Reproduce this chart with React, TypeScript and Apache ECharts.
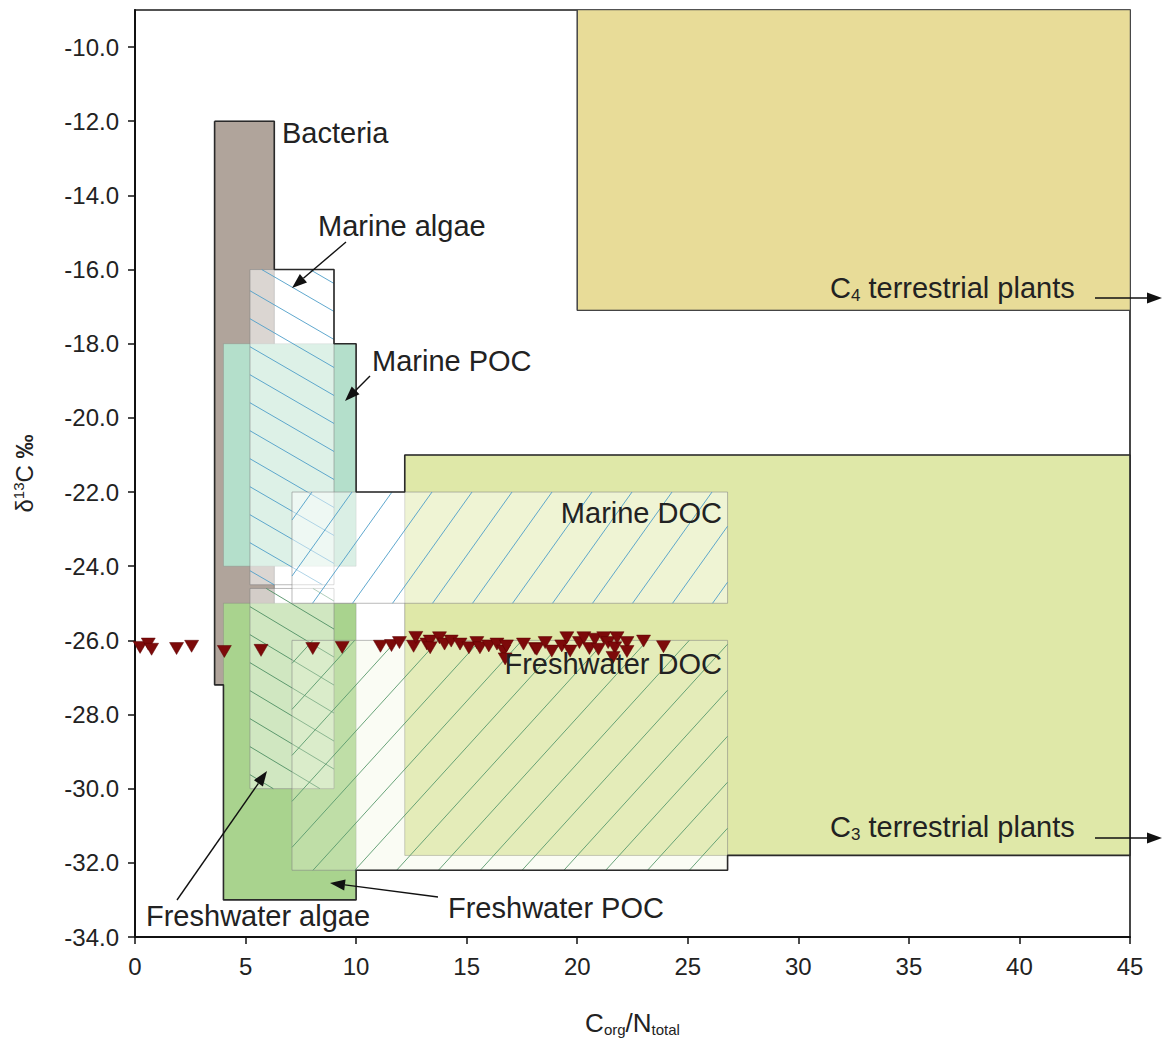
import React, { useEffect, useRef } from 'react';
import * as echarts from 'echarts';

// ---------- axis ticks ----------
const xTicks = [0, 5, 10, 15, 20, 25, 30, 35, 40, 45];
const yTicks = [-34, -32, -30, -28, -26, -24, -22, -20, -18, -16, -14, -12, -10];

// ---------- source regions (C/N range, d13C range) ----------
const regionNames = [
  'C4 terrestrial plants',
  'C3 terrestrial plants',
  'Bacteria',
  'Marine POC',
  'Freshwater POC',
  'Marine algae',
  'Freshwater algae',
  'Marine DOC',
  'Freshwater DOC',
];
const regionCnMin = [20, 12.2, 3.6, 4, 4, 5.2, 5.2, 7.1, 7.1];
const regionCnMax = [45, 45, 6.3, 10, 10, 9, 9, 26.8, 26.8];
const regionD13Min = [-17.1, -31.8, -27.2, -24, -33, -24.5, -30, -25, -32.2];
const regionD13Max = [-9, -21, -12, -18, -25, -16, -24.6, -22, -26];

// outer outline of the combined source fields
const outlineCn = [3.6, 6.3, 6.3, 9, 9, 10, 10, 12.2, 12.2, 45, 45, 26.8, 26.8, 10, 10, 4, 4, 3.6, 3.6];
const outlineD13 = [-12, -12, -16, -16, -18, -18, -22, -22, -21, -21, -31.8, -31.8, -32.2, -32.2, -33, -33, -27.2, -27.2, -12];
const c4OutlineCn = [20, 20, 45];
const c4OutlineD13 = [-9, -17.1, -17.1];

// ---------- samples ----------
const sampleCn = [
  0.23, 0.6, 0.75, 1.88, 2.56, 4.04, 5.7, 8.04, 9.37, 11.1, 11.6, 11.96, 12.6, 12.7, 13.2,
  13.35, 13.35, 13.77, 14.0, 14.3, 14.7, 15.1, 15.46, 15.6, 16.0, 16.37, 16.67, 16.74, 16.8,
  17.57, 18.1, 18.17, 18.55, 18.85, 19.3, 19.53, 19.68, 20.1, 20.3, 20.55, 20.8, 20.96, 21.2,
  21.4, 21.7, 21.8, 21.62, 22.25, 22.25, 23.0, 23.9,
];
const sampleD13 = [
  -26.19, -26.1, -26.24, -26.22, -26.16, -26.3, -26.27, -26.22, -26.19, -26.16, -26.14, -26.06, -26.16, -25.92, -26.1,
  -26.02, -26.2, -25.93, -26.1, -26.02, -26.1, -26.2, -26.06, -26.2, -26.15, -26.1, -26.29, -26.5, -26.15,
  -26.1, -26.22, -26.24, -26.06, -26.29, -26.15, -25.93, -26.29, -26.06, -25.93, -26.22, -25.97, -26.24, -25.93,
  -26.06, -26.2, -25.93, -26.46, -26.06, -26.3, -26.02, -26.17,
];

const FONT = '"Liberation Sans", Arial, Helvetica, sans-serif';
const TEXT = '#222';

type RegionStyle = {
  fill: string;
  stroke: string;
  hatch?: '/' | '\\';
  hatchColor?: string;
  slope?: number;
  step?: number;
};

const regionStyles: Record<string, RegionStyle> = {
  'C4 terrestrial plants': { fill: '#e8dc98', stroke: 'rgba(80,80,80,0.5)' },
  'C3 terrestrial plants': { fill: '#dfe8a8', stroke: 'rgba(80,80,80,0.4)' },
  Bacteria: { fill: '#b0a49b', stroke: 'rgba(90,90,90,0.6)' },
  'Marine POC': { fill: '#b4dfcb', stroke: 'rgba(120,120,120,0.3)' },
  'Freshwater POC': { fill: '#a9d38e', stroke: 'rgba(120,120,120,0.3)' },
  'Marine algae': { fill: 'rgba(255,255,255,0.55)', stroke: 'rgba(130,130,130,0.55)', hatch: '\\', hatchColor: '#4f9fc9', slope: 0.58, step: 28 },
  'Freshwater algae': { fill: 'rgba(255,255,255,0.45)', stroke: 'rgba(130,130,130,0.55)', hatch: '\\', hatchColor: '#4f8f64', slope: 0.6, step: 28 },
  'Marine DOC': { fill: 'rgba(255,255,255,0.5)', stroke: 'rgba(130,130,130,0.55)', hatch: '/', hatchColor: '#4f9fc9', slope: 1.4, step: 56 },
  'Freshwater DOC': { fill: 'rgba(240,245,222,0.32)', stroke: 'rgba(130,130,130,0.55)', hatch: '/', hatchColor: '#5a9a6e', slope: 1.1, step: 46 },
};

function hatchLines(x0: number, y0: number, w: number, h: number, st: RegionStyle) {
  const out: any[] = [];
  const k = st.slope as number;
  const step = st.step as number;
  const lineStyle = { stroke: st.hatchColor, lineWidth: 1, opacity: 0.9 };
  if (st.hatch === '\\') {
    for (let c = h - step / 2; c > -k * w; c -= step) {
      const a = Math.max(0, -c / k);
      const b = Math.min(w, (h - c) / k);
      if (b > a) {
        out.push({ type: 'line', shape: { x1: x0 + a, y1: y0 + k * a + c, x2: x0 + b, y2: y0 + k * b + c }, style: lineStyle });
      }
    }
  } else {
    for (let c = step / 2; c < h + k * w; c += step) {
      const a = Math.max(0, (c - h) / k);
      const b = Math.min(w, c / k);
      if (b > a) {
        out.push({ type: 'line', shape: { x1: x0 + a, y1: y0 - k * a + c, x2: x0 + b, y2: y0 - k * b + c }, style: lineStyle });
      }
    }
  }
  return out;
}

function arrow(x1: number, y1: number, x2: number, y2: number) {
  const ang = Math.atan2(y2 - y1, x2 - x1);
  const L = 15;
  const W = 5.5;
  const c = Math.cos(ang);
  const s = Math.sin(ang);
  const bx = x2 - L * c;
  const by = y2 - L * s;
  return [
    { type: 'line', silent: true, shape: { x1, y1, x2: bx, y2: by }, style: { stroke: '#111', lineWidth: 1.4 }, z: 100 },
    {
      type: 'polygon',
      silent: true,
      shape: { points: [[x2, y2], [bx + W * s, by - W * c], [bx - W * s, by + W * c]] },
      style: { fill: '#111' },
      z: 100,
    },
  ];
}

function label(text: string, x: number, y: number, align: 'left' | 'right' = 'left') {
  return {
    type: 'text',
    silent: true,
    x,
    y,
    z: 100,
    style: {
      text,
      fill: TEXT,
      font: `29px ${FONT}`,
      fontSize: 29,
      fontFamily: FONT,
      align,
      textAlign: align,
      verticalAlign: 'middle',
      textVerticalAlign: 'middle',
      rich: {
        sub: { fontSize: 17, fontFamily: FONT, fill: TEXT, padding: [14, 0, 0, 0] },
      },
    },
  };
}

export default function App() {
  const ref = useRef<HTMLDivElement>(null);

  useEffect(() => {
    if (!ref.current) return;
    const chart = echarts.init(ref.current, undefined, { renderer: 'svg' });

    const regionData = regionNames.map((n, i) => [regionCnMin[i], regionCnMax[i], regionD13Min[i], regionD13Max[i], i]);

    const option: any = {
      animation: false,
      backgroundColor: '#ffffff',
      grid: {
        left: 135,
        right: 34,
        top: 10,
        bottom: 107,
        show: true,
        borderColor: '#1a1a1a',
        borderWidth: 1.6,
        backgroundColor: 'transparent',
      },
      xAxis: {
        type: 'value',
        min: 0,
        max: 45,
        interval: 5,
        name: 'C{sub|org}/N{sub|total}',
        nameLocation: 'middle',
        nameGap: 72,
        nameTextStyle: {
          fontFamily: FONT,
          fontSize: 26,
          color: TEXT,
          rich: {
            sub: { fontFamily: FONT, fontSize: 15, color: TEXT, padding: [13, 0, 0, 0] },
          },
        },
        axisLine: { show: true, onZero: false, lineStyle: { color: '#111', width: 2 } },
        axisTick: { show: true, inside: false, length: 7, lineStyle: { color: '#111', width: 1.5 }, customValues: xTicks },
        axisLabel: {
          fontFamily: FONT,
          fontSize: 24,
          color: TEXT,
          margin: 17,
          customValues: xTicks,
        },
        splitLine: { show: false },
      },
      yAxis: {
        type: 'value',
        min: -34,
        max: -9,
        interval: 2,
        name: '{n|δ}{sup|13}{n|C }{b|‰}',
        nameLocation: 'middle',
        nameRotate: 90,
        nameGap: 97,
        nameTextStyle: {
          fontFamily: FONT,
          fontSize: 24,
          color: TEXT,
          rich: {
            n: { fontFamily: FONT, fontSize: 24, color: TEXT },
            sup: { fontFamily: FONT, fontSize: 15, color: TEXT, padding: [0, 0, 12, 0] },
            b: { fontFamily: FONT, fontSize: 24, color: TEXT, fontWeight: 'bold' },
          },
        },
        axisLine: { show: true, onZero: false, lineStyle: { color: '#111', width: 2 } },
        axisTick: { show: true, inside: false, length: 7, lineStyle: { color: '#111', width: 1.5 }, customValues: yTicks },
        axisLabel: {
          fontFamily: FONT,
          fontSize: 24,
          color: TEXT,
          margin: 16,
          customValues: yTicks,
          formatter: (v: number) => v.toFixed(1),
        },
        splitLine: { show: false },
      },
      series: [
        {
          type: 'custom',
          name: 'Source fields',
          coordinateSystem: 'cartesian2d',
          clip: true,
          z: 1,
          encode: { x: [0, 1], y: [2, 3] },
          data: regionData,
          renderItem: (params: any, api: any) => {
            const idx = api.value(4);
            const st = regionStyles[regionNames[idx]];
            const tl = api.coord([api.value(0), api.value(3)]);
            const br = api.coord([api.value(1), api.value(2)]);
            const x0 = tl[0];
            const y0 = tl[1];
            const w = br[0] - tl[0];
            const h = br[1] - tl[1];
            const children: any[] = [
              { type: 'rect', shape: { x: x0, y: y0, width: w, height: h }, style: { fill: st.fill, stroke: st.stroke, lineWidth: 1 } },
            ];
            if (st.hatch) children.push(...hatchLines(x0, y0, w, h, st));
            return { type: 'group', children };
          },
        },
        {
          type: 'line',
          name: 'outline',
          data: outlineCn.map((x, i) => [x, outlineD13[i]]),
          symbol: 'none',
          z: 3,
          silent: true,
          lineStyle: { color: '#2a2a2a', width: 1.6 },
        },
        {
          type: 'line',
          name: 'C4 outline',
          data: c4OutlineCn.map((x, i) => [x, c4OutlineD13[i]]),
          symbol: 'none',
          z: 3,
          silent: true,
          lineStyle: { color: '#444', width: 1.4 },
        },
        {
          type: 'scatter',
          name: 'Samples',
          data: sampleCn.map((x, i) => [x, sampleD13[i]]),
          symbol: 'triangle',
          symbolRotate: 180,
          symbolSize: [14, 12],
          z: 5,
          itemStyle: { color: '#7d0a0a', borderColor: '#5a0000', borderWidth: 0.5, opacity: 1 },
        },
      ],
      graphic: [
        label('Bacteria', 282, 133),
        label('Marine algae', 318, 226),
        label('Marine POC', 372, 361),
        label('Marine DOC', 722, 513, 'right'),
        label('Freshwater DOC', 722, 664, 'right'),
        label('Freshwater algae', 146, 916),
        label('Freshwater POC', 448, 908),
        label('C{sub|4} terrestrial plants', 830, 288),
        label('C{sub|3} terrestrial plants', 830, 827),
        ...arrow(346, 242, 292, 288),
        ...arrow(370, 376, 345, 401),
        ...arrow(177, 900, 267, 771),
        ...arrow(438, 897, 330, 883),
        ...arrow(1095, 298, 1162, 298),
        ...arrow(1095, 838, 1162, 838),
      ],
    };

    chart.setOption(option);
    return () => chart.dispose();
  }, []);

  return <div ref={ref} style={{ position: 'absolute', left: 0, top: 0, width: 1164, height: 1044, background: '#fff' }} />;
}
